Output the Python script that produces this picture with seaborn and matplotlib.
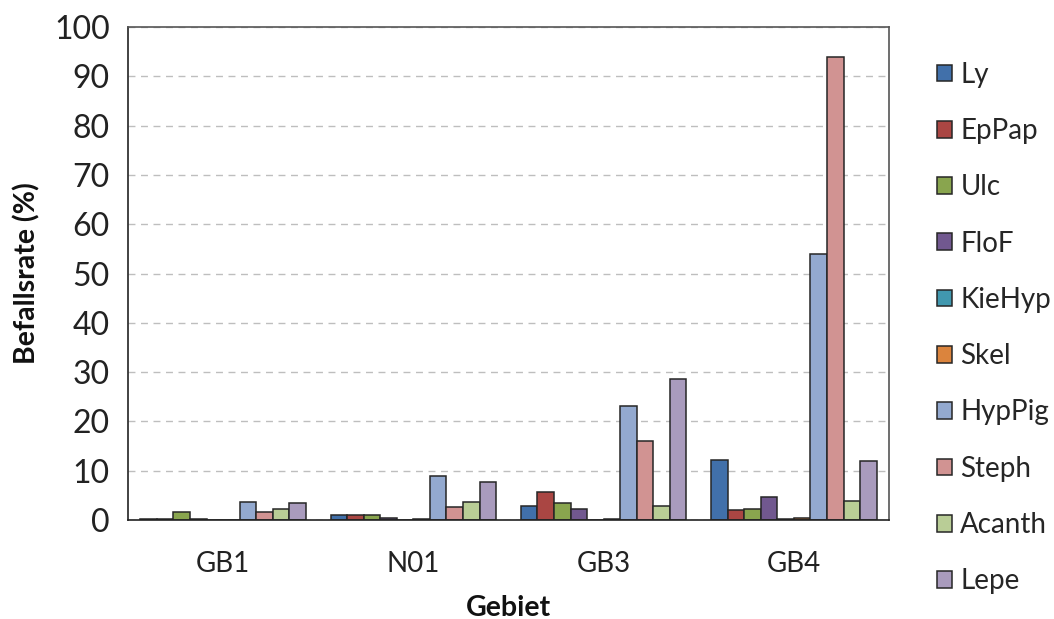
import matplotlib
matplotlib.use("Agg")
import matplotlib.pyplot as plt
import seaborn as sns
import pandas as pd
from matplotlib.ticker import MultipleLocator, FixedLocator

regions = ["GB1", "N01", "GB3", "GB4"]
species = ["Ly", "EpPap", "Ulc", "FloF", "KieHyp", "Skel", "HypPig", "Steph", "Acanth", "Lepe"]
Ly     = [0.2, 1.1, 2.9, 12.2]
EpPap  = [0.2, 1.1, 5.6, 2.1]
Ulc    = [1.6, 1.1, 3.5, 2.3]
FloF   = [0.2, 0.5, 2.3, 4.7]
KieHyp = [0.0, 0.0, 0.0, 0.2]
Skel   = [0.0, 0.2, 0.2, 0.5]
HypPig = [3.7, 9.0, 23.2, 54.0]
Steph  = [1.6, 2.7, 16.1, 94.0]
Acanth = [2.2, 3.6, 2.9, 3.9]
Lepe   = [3.4, 7.8, 28.5, 12.0]
colors = ["#4170AA", "#AA4643", "#89A54E", "#71588F", "#4198AF",
          "#DB843D", "#93A9CF", "#D19392", "#B9CD96", "#A99BBD"]

series = [Ly, EpPap, Ulc, FloF, KieHyp, Skel, HypPig, Steph, Acanth, Lepe]
rows = []
for sp, vals in zip(species, series):
    for r, v in zip(regions, vals):
        rows.append({"Gebiet": r, "Art": sp, "Wert": v})
df = pd.DataFrame(rows)

sns.set_style("white")
plt.rcParams["font.family"] = ["Lato", "DejaVu Sans"]

fig = plt.figure(figsize=(10.54, 6.19), dpi=100)
ax = fig.add_axes([128/1054, 1-520/619, (889-128)/1054, (520-27)/619])

sns.barplot(data=df, x="Gebiet", y="Wert", hue="Art", order=regions,
            hue_order=species, palette=colors, width=0.87, dodge=True,
            edgecolor="#262626", linewidth=1.1, saturation=1, ax=ax,
            legend=True, errorbar=None)

ax.set_ylim(0, 100)
ax.set_xlim(-0.5, len(regions) - 0.5)
ax.yaxis.set_major_locator(MultipleLocator(10))
ax.yaxis.grid(True, color="#BEBEBE", linestyle=(0, (5, 4)), linewidth=1)
ax.set_axisbelow(True)

ax.xaxis.set_minor_locator(FixedLocator([i - 0.5 for i in range(len(regions) + 1)]))
ax.tick_params(axis="x", which="major", length=0, labelsize=20, pad=22, colors="#222222")
ax.tick_params(axis="x", which="minor", length=9, width=1, direction="inout", color="#333333")
ax.tick_params(axis="y", which="major", length=10, width=1, direction="inout",
               labelsize=23, pad=8, colors="#222222")
ax.tick_params(axis="y", colors="#333333", labelcolor="#222222")

for s in ["left", "bottom"]:
    ax.spines[s].set_color("#222222")
    ax.spines[s].set_linewidth(1.2)
for s in ["top", "right"]:
    ax.spines[s].set_visible(True)
    ax.spines[s].set_color("#555555")
    ax.spines[s].set_linewidth(1.2)

ax.set_xlabel("Gebiet", fontsize=20.5, fontweight="bold", labelpad=13, color="#111111")
ax.set_ylabel("Befallsrate (%)", fontsize=20.5, fontweight="bold", labelpad=10, color="#111111")

handles, labels = ax.get_legend_handles_labels()
ax.get_legend().remove()
fig.legend(handles, labels, loc="center left", bbox_to_anchor=(937/1054, 1-328/619),
           frameon=False, fontsize=20, handlelength=0.55, handleheight=0.55,
           handletextpad=0.29, labelspacing=1.09, borderaxespad=0, borderpad=0)

fig.savefig("out.png", dpi=100)
